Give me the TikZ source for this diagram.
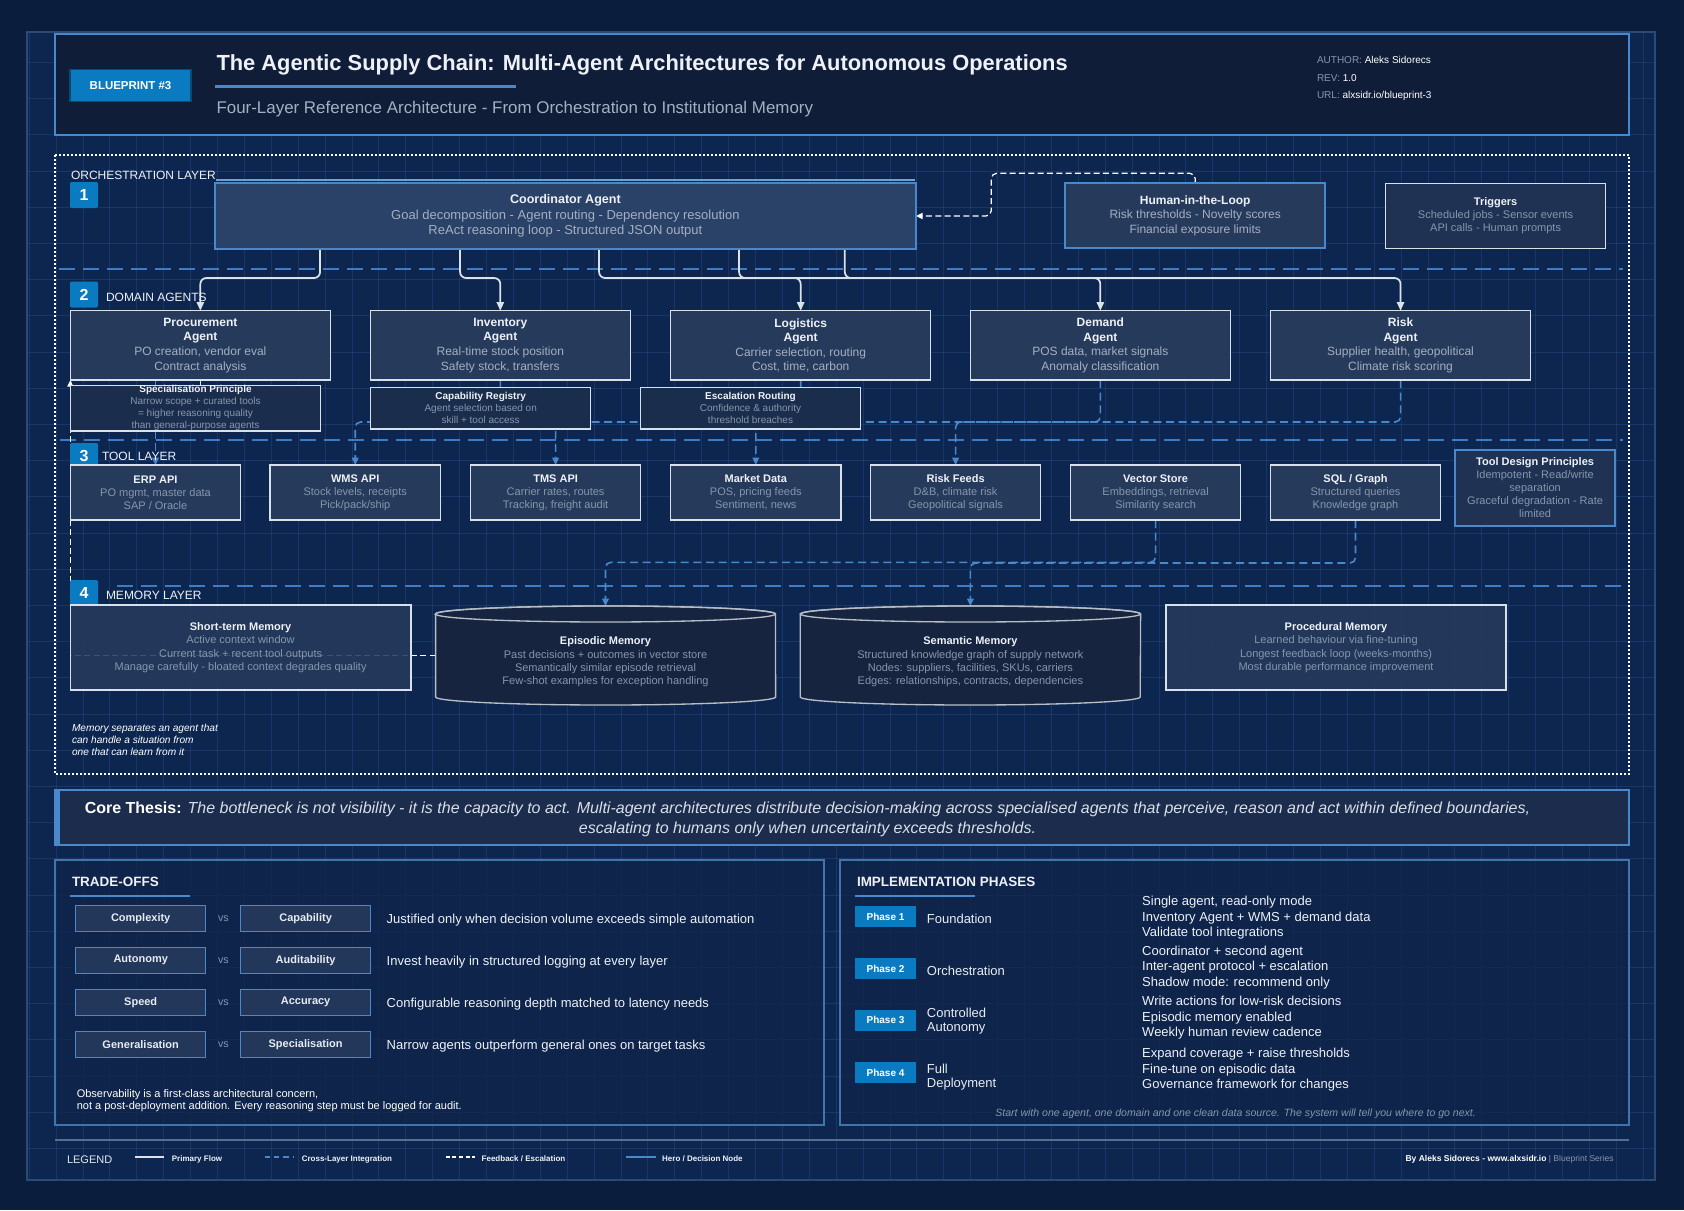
\documentclass[tikz,border=0pt]{standalone}
\usepackage{fontspec}
\setmainfont{Liberation Sans}
\usetikzlibrary{arrows.meta}
\definecolor{bg}{HTML}{0A1D3C}
\definecolor{panel}{HTML}{0D2650}
\definecolor{panelline}{HTML}{2A4A78}
\definecolor{gridc}{HTML}{3A62A0}
\definecolor{accent}{HTML}{4A88CC}
\definecolor{layerline}{HTML}{3D7CC9}
\definecolor{badge}{HTML}{0B7BC1}
\definecolor{boxfill}{HTML}{263A5C}
\definecolor{coordfill}{HTML}{2A4168}
\definecolor{notefill}{HTML}{1B2D4D}
\definecolor{trigfill}{HTML}{1F3254}
\definecolor{cylfill}{HTML}{16243F}
\definecolor{boxline}{HTML}{D8E0EA}
\definecolor{titletxt}{HTML}{EEF2F8}
\definecolor{desctxt}{HTML}{A4B0C2}
\definecolor{dimtxt}{HTML}{8696AC}
\definecolor{headfill}{HTML}{101D38}
\definecolor{flowc}{HTML}{DCE2EA}
\definecolor{thesisfill}{HTML}{1B2C4C}
\definecolor{thesistxt}{HTML}{D8DFE8}
\definecolor{tofill}{HTML}{22375A}
\definecolor{sectfill}{HTML}{0F2448}
\newcommand\fs[2]{\fontsize{#1}{#2}\selectfont}
\newcommand\ttl[1]{\textcolor{titletxt}{\bfseries #1}}
\def\u{0.75pt}
\pgfdeclarelayer{back}
\pgfdeclarelayer{conn}
\pgfsetlayers{back,conn,main}
\begin{document}
\begin{tikzpicture}[x=0.75pt,y=-0.75pt,
  every node/.style={inner sep=0pt,outer sep=0pt},
  agentbox/.style={draw=boxline,line width=1.1pt,fill=boxfill,minimum width=260*\u,minimum height=69.3*\u,align=center,text=desctxt,font=\fs{9}{10.9}},
  notebox/.style={draw=boxline,line width=1pt,fill=notefill,minimum height=41.7*\u,align=center,text=dimtxt,font=\fs{7.5}{9}},
  toolbox/.style={draw=boxline,line width=1.1pt,fill=boxfill,minimum width=170.2*\u,minimum height=55*\u,align=center,text=dimtxt,font=\fs{8.25}{9.75}},
  membox/.style={draw=boxline,line width=1.1pt,fill=boxfill,fill opacity=0.88,text opacity=1,minimum width=340.4*\u,minimum height=85*\u,align=center,text=dimtxt,font=\fs{8.25}{10}},
  numbadge/.style={fill=badge,minimum width=28*\u,minimum height=26*\u,rounded corners=1pt,text=white,font=\bfseries\fs{12}{12}},
  layerlbl/.style={anchor=west,text=titletxt,font=\fs{9}{10}},
  flow/.style={flowc,line width=1.3pt,rounded corners=4.5pt,-{Triangle[length=6.5pt,width=5.5pt]}},
  xl/.style={accent,line width=1.2pt,dash pattern=on 6pt off 3.5pt,rounded corners=4pt,-{Triangle[length=5.5pt,width=5pt]}},
  fb/.style={white,line width=0.9pt,dash pattern=on 4.5pt off 2.5pt,rounded corners=4pt,-{Triangle[length=5pt,width=4.5pt]}},
  tobox/.style={draw=accent,line width=1.1pt,fill=tofill,minimum width=130*\u,minimum height=26*\u,text=titletxt!90!desctxt,font=\bfseries\fs{8.25}{9}},
  phbadge/.style={fill=badge,minimum width=60.2*\u,minimum height=21.5*\u,text=white,font=\bfseries\fs{7.5}{8}},
  section/.style={draw=accent!85!black,line width=1.5pt,fill=sectfill,fill opacity=0.75}
]
\useasboundingbox (0,0) rectangle (1684,1210);

%================ BACKGROUND ================
\begin{pgfonlayer}{back}
\fill[bg] (0,0) rectangle (1684,1210);
\fill[panel] (27,32) rectangle (1655,1180);
\begin{scope}[gridc,line width=0.4pt,opacity=0.28]
\foreach \gx in {29,55.9,...,1655} \draw (\gx,32) -- (\gx,1180);
\foreach \gy in {62.3,98.5,...,1180} \draw (27,\gy) -- (1655,\gy);
\end{scope}
\draw[panelline,line width=1pt] (27,32) rectangle (1655,1180);
% main dotted frame
\draw[white,line width=1.5pt,dash pattern=on 1.5pt off 1.5pt] (55,155) rectangle (1629,774);
% layer separators
\draw[layerline,line width=1.5pt,dash pattern=on 12pt off 6pt] (59,269.3) -- (1623,269.3);
\draw[layerline,line width=1.5pt,dash pattern=on 12pt off 6pt] (60,440) -- (1623,440);
\draw[layerline,line width=1.5pt,dash pattern=on 12pt off 6pt] (117,585.5) -- (1623,585.5);
% bottom separator
\draw[panelline!80!white,line width=0.8pt] (55,1140) -- (1629,1140);
\end{pgfonlayer}

%================ HEADER ================
\node[draw=accent,line width=1.5pt,fill=headfill,minimum width=1574*\u,minimum height=101*\u] (header) at (842,84.5) {};
\node[fill=badge,draw=badge!60!black,line width=0.8pt,minimum width=121*\u,minimum height=32*\u,text=white,font=\bfseries\fs{8.6}{10}] (bp) at (130.5,85.3) {BLUEPRINT \#3};
\node[anchor=west,text=titletxt,font=\bfseries\fs{16.4}{19}] (title) at (216.5,64.5) {The Agentic Supply Chain: Multi-Agent Architectures for Autonomous Operations};
\draw[accent,line width=2.2pt] (215,86.3) -- (515.6,86.3);
\node[anchor=west,text=desctxt,font=\fs{12.7}{15}] (subtitle) at (216.5,109) {Four-Layer Reference Architecture - From Orchestration to Institutional Memory};
\node[anchor=west,font=\fs{7.5}{9}] (meta1) at (1317,60) {\textcolor{dimtxt}{AUTHOR:} \textcolor{white}{Aleks Sidorecs}};
\node[anchor=west,font=\fs{7.5}{9}] (meta2) at (1317,77.7) {\textcolor{dimtxt}{REV:} \textcolor{white}{1.0}};
\node[anchor=west,font=\fs{7.5}{9}] (meta3) at (1317,95.7) {\textcolor{dimtxt}{URL:} \textcolor{white}{alxsidr.io/blueprint-3}};

%================ LAYER LABELS ================
\node[layerlbl] (l1) at (71,175.5) {ORCHESTRATION LAYER};
\node[numbadge] (n1) at (84,195) {1};
\node[numbadge] (n2) at (84,294.5) {2};
\node[layerlbl] (l2) at (106,297) {DOMAIN AGENTS};
\node[numbadge] (n3) at (84,456) {3};
\node[layerlbl] (l3) at (102,456.7) {TOOL LAYER};
\node[numbadge] (n4) at (84,593) {4};
\node[layerlbl] (l4) at (106,595) {MEMORY LAYER};

%================ LAYER 1 ================
\draw[accent!80!white,line width=1.2pt] (215.5,180) -- (915.3,180);
\node[draw=accent,line width=2pt,fill=coordfill,minimum width=701*\u,minimum height=66*\u,align=center,text=desctxt,font=\fs{9.75}{11.6}] (coord) at (565.4,216)
  {\ttl{\fs{9.4}{11.6}Coordinator Agent}\\Goal decomposition - Agent routing - Dependency resolution\\ReAct reasoning loop - Structured JSON output};
\node[draw=accent,line width=1.5pt,fill=boxfill,minimum width=260*\u,minimum height=65.3*\u,align=center,text=desctxt,font=\fs{9}{10.9}] (human) at (1195.2,215.5)
  {\ttl{Human-in-the-Loop}\\Risk thresholds - Novelty scores\\Financial exposure limits};
\node[draw=boxline,line width=1.1pt,fill=trigfill,minimum width=220.2*\u,minimum height=65*\u,align=center,text=dimtxt,font=\fs{8.25}{9.75}] (trig) at (1495.6,215.8)
  {\ttl{Triggers}\\Scheduled jobs - Sensor events\\API calls - Human prompts};
\coordinate (hfb) at (991.3,173.3);

%================ LAYER 2 ================
\node[agentbox] (proc) at (200.35,345.35) {\ttl{Procurement}\\\ttl{Agent}\\PO creation, vendor eval\\Contract analysis};
\node[agentbox] (inv) at (500.3,345.35) {\ttl{Inventory}\\\ttl{Agent}\\Real-time stock position\\Safety stock, transfers};
\node[agentbox] (log) at (800.7,345.35) {\ttl{Logistics}\\\ttl{Agent}\\Carrier selection, routing\\Cost, time, carbon};
\node[agentbox] (dem) at (1100.35,345.35) {\ttl{Demand}\\\ttl{Agent}\\POS data, market signals\\Anomaly classification};
\node[agentbox] (risk) at (1400.55,345.35) {\ttl{Risk}\\\ttl{Agent}\\Supplier health, geopolitical\\Climate risk scoring};

\node[notebox,minimum width=250.2*\u] (spec) at (195.5,408.2) {\ttl{Specialisation Principle}\\Narrow scope + curated tools\\= higher reasoning quality\\than general-purpose agents};
\node[notebox,minimum width=220.2*\u] (cap) at (480.7,408.2) {\ttl{Capability Registry}\\Agent selection based on\\skill + tool access};
\node[notebox,minimum width=219.6*\u] (esc) at (750.5,408.2) {\ttl{Escalation Routing}\\Confidence \& authority\\threshold breaches};

%================ LAYER 3 ================
\node[toolbox] (erp) at (155.5,492.5) {\ttl{ERP API}\\PO mgmt, master data\\SAP / Oracle};
\node[toolbox] (wms) at (355.2,492.5) {\ttl{WMS API}\\Stock levels, receipts\\Pick/pack/ship};
\node[toolbox] (tms) at (555.6,492.5) {\ttl{TMS API}\\Carrier rates, routes\\Tracking, freight audit};
\node[toolbox] (mkt) at (755.8,492.5) {\ttl{Market Data}\\POS, pricing feeds\\Sentiment, news};
\node[toolbox] (rfeed) at (955.6,492.5) {\ttl{Risk Feeds}\\D\&B, climate risk\\Geopolitical signals};
\node[toolbox] (vec) at (1155.6,492.5) {\ttl{Vector Store}\\Embeddings, retrieval\\Similarity search};
\node[toolbox] (sql) at (1355.5,492.5) {\ttl{SQL / Graph}\\Structured queries\\Knowledge graph};
\node[draw=accent,line width=1.5pt,fill=trigfill,minimum width=160.6*\u,minimum height=75.7*\u,align=center,text=dimtxt,font=\fs{8.25}{9.75}] (tdp) at (1535.1,487.9)
  {\ttl{Tool Design Principles}\\Idempotent - Read/write\\separation\\Graceful degradation - Rate\\limited};

%================ LAYER 4 ================
\node[membox] (stm) at (240.6,647.5) {\ttl{Short-term Memory}\\Active context window\\Current task + recent tool outputs\\Manage carefully - bloated context degrades quality};
\node[minimum width=340*\u,minimum height=99*\u] (epi) at (605.5,655.5) {};
\node[minimum width=340.4*\u,minimum height=99*\u] (sem) at (970.4,655.5) {};
\foreach \L/\R/\C in {435.6/775.5/605.5, 800.2/1140.6/970.4}{
  \filldraw[fill=cylfill,draw=boxline!85!black,line width=1pt] (\L,614) -- (\L,697) arc[start angle=180,end angle=360,x radius=170*\u,y radius=8*\u] -- (\R,614) arc[start angle=0,end angle=180,x radius=170*\u,y radius=8*\u] -- cycle;
  \draw[boxline!85!black,line width=1pt] (\C,614) ellipse[x radius=170*\u,y radius=8*\u];
}
\node[align=center,text=dimtxt,font=\fs{8.25}{10}] (epitxt) at (605.5,662) {\ttl{Episodic Memory}\\Past decisions + outcomes in vector store\\Semantically similar episode retrieval\\Few-shot examples for exception handling};
\node[align=center,text=dimtxt,font=\fs{8.25}{10}] (semtxt) at (970.4,662) {\ttl{Semantic Memory}\\Structured knowledge graph of supply network\\Nodes: suppliers, facilities, SKUs, carriers\\Edges: relationships, contracts, dependencies};
\node[membox] (pro) at (1336,647.5) {\ttl{Procedural Memory}\\Learned behaviour via fine-tuning\\Longest feedback loop (weeks-months)\\Most durable performance improvement};
\node[anchor=west,align=left,text=white,font=\itshape\fs{7.6}{9}] (memnote) at (72,740) {Memory separates an agent that\\can handle a situation from\\one that can learn from it};

%================ CONNECTORS ================
\begin{pgfonlayer}{conn}
\draw[flow] ([xshift=105.2*\u]coord.south west) -- ++(0,29) -| (proc.north);
\draw[flow] ([xshift=245.2*\u]coord.south west) -- ++(0,29) -| (inv.north);
\draw[flow] ([xshift=384.2*\u]coord.south west) -- ++(0,29) -| (log.north);
\draw[flow] ([xshift=524.2*\u]coord.south west) -- ++(0,29) -| (dem.north);
\draw[flow] ([xshift=629.9*\u]coord.south west) -- ++(0,29) -| (risk.north);
\draw[flowc,line width=0.9pt] (proc.south) -- (proc.south |- spec.north);
\draw[flowc,line width=0.9pt] (inv.south) -- (inv.south |- cap.north);
\draw[flowc,line width=0.9pt] (log.south) -- (log.south |- esc.north);
\draw[fb] (human.north) |- (hfb) |- (coord.east);
\draw[xl] (erp.north |- proc.south) -- (erp.north);
\draw[xl] (inv.south) -- ++(0,42) -| (wms.north);
\draw[xl] (log.south) -- ++(0,42) -| (tms.north);
\draw[xl] (dem.south) -- ++(0,42) -| (mkt.north);
\draw[xl] (risk.south) -- ++(0,42) -| (rfeed.north);
\draw[xl] (vec.south) -- ++(0,42.3) -| (epi.north);
\draw[xl] (sql.south) -- ++(0,43) -| (sem.north);
\draw[fb,rounded corners=0pt] (epi.west) -| (proc.south west);
\end{pgfonlayer}

%================ CORE THESIS ================
\node[draw=accent,line width=1.5pt,fill=thesisfill,minimum width=1573.7*\u,minimum height=55*\u] (thesis) at (842.2,817.5) {};
\fill[accent] (55.3,790) rectangle (59.8,845);
\node[align=center,text=thesistxt,font=\fs{12}{15}] (thesistxt) at (807.5,819)
 {\textcolor{white}{\bfseries Core Thesis:} \itshape The bottleneck is not visibility - it is the capacity to act. Multi-agent architectures distribute decision-making across specialised agents that perceive, reason and act within defined boundaries,\\\itshape escalating to humans only when uncertainty exceeds thresholds.};

%================ TRADE-OFFS ================
\node[section,minimum width=769.1*\u,minimum height=265*\u] (tradeoffs) at (439.9,992.5) {};
\node[anchor=west,text=titletxt,font=\bfseries\fs{10.1}{12}] (tohead) at (72,882.3) {TRADE-OFFS};
\draw[accent,line width=2.2pt] (70,896) -- (189.6,896);
\foreach \y/\a/\b/\d [count=\i] in {918.7/Complexity/Capability/{Justified only when decision volume exceeds simple automation},
  960.3/Autonomy/Auditability/{Invest heavily in structured logging at every layer},
  1002.3/Speed/Accuracy/{Configurable reasoning depth matched to latency needs},
  1044.3/Generalisation/Specialisation/{Narrow agents outperform general ones on target tasks}}{
  \node[tobox] (ta\i) at (140.7,\y) {\a};
  \node[text=dimtxt,font=\fs{8}{9}] (vs\i) at (223.4,\y) {vs};
  \node[tobox] (tb\i) at (305.6,\y) {\b};
  \node[anchor=west,text=titletxt,font=\fs{9.75}{11}] (td\i) at (386.7,\y+1.5) {\d};
}
\node[anchor=west,align=left,text=white,font=\fs{8.25}{9.5}] (obs) at (76.8,1100.5) {Observability is a first-class architectural concern,\\not a post-deployment addition. Every reasoning step must be logged for audit.};

%================ IMPLEMENTATION PHASES ================
\node[section,minimum width=789*\u,minimum height=265*\u] (phases) at (1234.5,992.5) {};
\node[anchor=west,text=titletxt,font=\bfseries\fs{10.1}{12}] (phhead) at (857,882.3) {IMPLEMENTATION PHASES};
\draw[accent,line width=2.2pt] (855.4,896) -- (974.7,896);
\node[phbadge] (p1) at (885.5,916.7) {Phase 1};
\node[phbadge] (p2) at (885.5,968.5) {Phase 2};
\node[phbadge] (p3) at (885.5,1020.3) {Phase 3};
\node[phbadge] (p4) at (885.5,1072.5) {Phase 4};
\node[anchor=west,align=left,text=titletxt!92!desctxt,font=\fs{9.75}{10.8}] (pn1) at (926.9,918.8) {Foundation};
\node[anchor=west,align=left,text=titletxt!92!desctxt,font=\fs{9.75}{10.8}] (pn2) at (926.9,971.2) {Orchestration};
\node[anchor=west,align=left,text=titletxt!92!desctxt,font=\fs{9.75}{10.8}] (pn3) at (926.9,1021) {Controlled\\Autonomy};
\node[anchor=west,align=left,text=titletxt!92!desctxt,font=\fs{9.75}{10.8}] (pn4) at (926.9,1077) {Full\\Deployment};
\node[anchor=west,align=left,text=titletxt,font=\fs{9.75}{11.6}] (pd1) at (1142.2,918) {Single agent, read-only mode\\Inventory Agent + WMS + demand data\\Validate tool integrations};
\node[anchor=west,align=left,text=titletxt,font=\fs{9.75}{11.6}] (pd2) at (1142.2,967.2) {Coordinator + second agent\\Inter-agent protocol + escalation\\Shadow mode: recommend only};
\node[anchor=west,align=left,text=titletxt,font=\fs{9.75}{11.6}] (pd3) at (1142.2,1018) {Write actions for low-risk decisions\\Episodic memory enabled\\Weekly human review cadence};
\node[anchor=west,align=left,text=titletxt,font=\fs{9.75}{11.6}] (pd4) at (1142.2,1069.8) {Expand coverage + raise thresholds\\Fine-tune on episodic data\\Governance framework for changes};
\node[text=dimtxt,font=\itshape\fs{7.9}{9}] (phfoot) at (1235.6,1113.8) {Start with one agent, one domain and one clean data source. The system will tell you where to go next.};

%================ LEGEND ================
\node[anchor=west,text=titletxt!85!desctxt,font=\fs{8.25}{9}] (leg) at (67,1160) {LEGEND};
\draw[flowc,line width=1.5pt] (135,1157) -- (163.8,1157);
\node[anchor=west,text=titletxt,font=\bfseries\fs{6}{7}] (lg1) at (171.9,1159) {Primary Flow};
\draw[accent,line width=1.5pt,dash pattern=on 4pt off 3pt] (264.8,1157) -- (294.3,1157);
\node[anchor=west,text=titletxt,font=\bfseries\fs{6}{7}] (lg2) at (301.8,1159) {Cross-Layer Integration};
\draw[white,line width=0.8pt,dash pattern=on 3pt off 2pt] (445.8,1157) -- (474.8,1157);
\node[anchor=west,text=titletxt,font=\bfseries\fs{6}{7}] (lg3) at (481.7,1159) {Feedback / Escalation};
\draw[accent,line width=2.2pt] (626.2,1157) -- (655.7,1157);
\node[anchor=west,text=titletxt,font=\bfseries\fs{6}{7}] (lg4) at (662.2,1159) {Hero / Decision Node};
\node[anchor=east,font=\fs{6.4}{7.5}] (credit) at (1613.7,1159) {\textcolor{white}{\bfseries By Aleks Sidorecs - www.alxsidr.io} \textcolor{dimtxt}{| Blueprint Series}};
\end{tikzpicture}
\end{document}
